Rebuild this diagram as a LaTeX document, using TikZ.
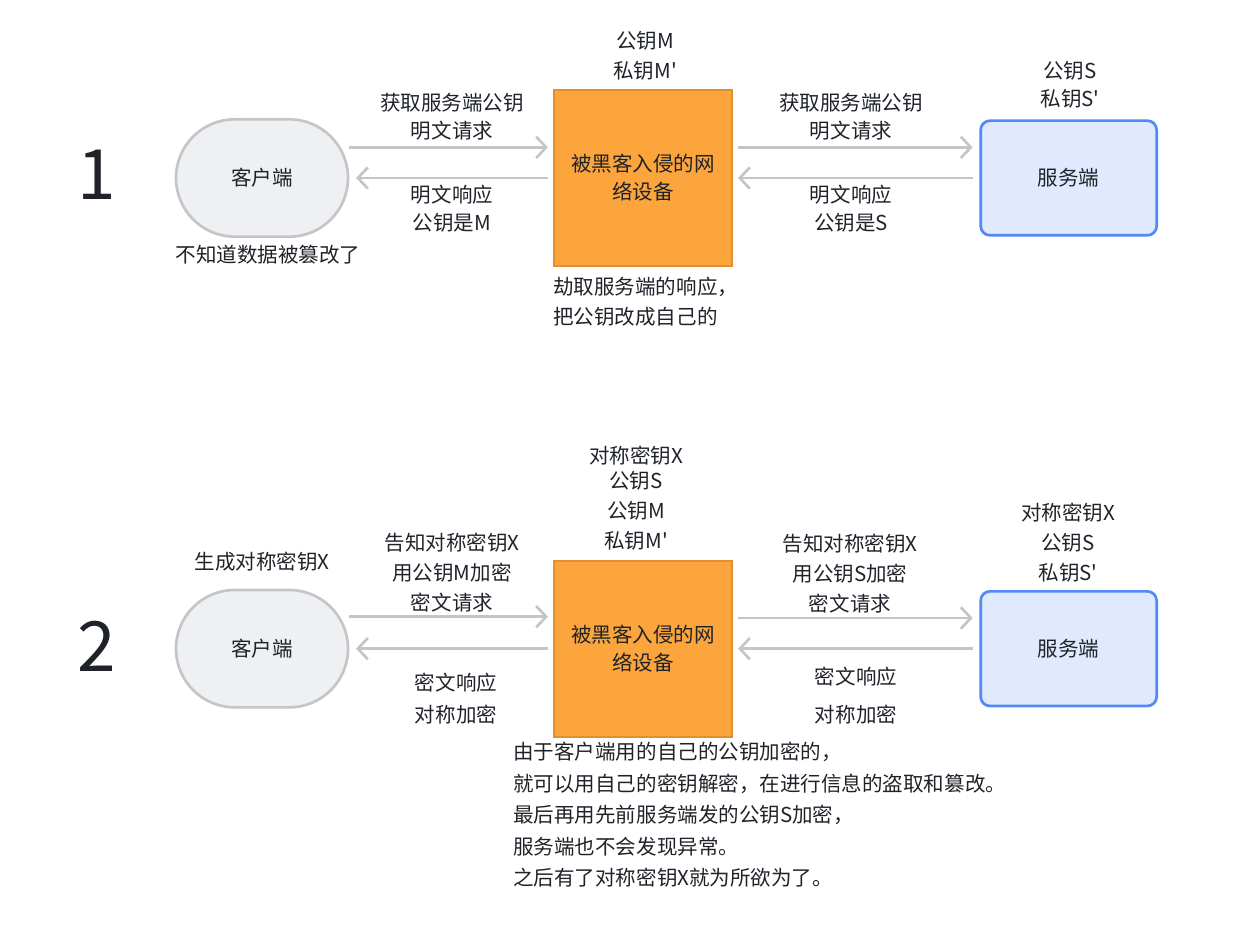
\documentclass[tikz,border=0pt]{standalone}
\usepackage{fontspec}
\setmainfont{Noto Sans CJK SC}
\usepackage{xcolor}
\usetikzlibrary{arrows.meta,positioning,calc}
\definecolor{inkDark}{RGB}{31,35,41}
\definecolor{cliFill}{RGB}{239,240,242}
\definecolor{cliEdge}{RGB}{196,197,200}
\definecolor{hackFill}{RGB}{252,165,61}
\definecolor{hackEdge}{RGB}{226,142,50}
\definecolor{srvFill}{RGB}{225,233,254}
\definecolor{srvEdge}{RGB}{81,137,246}
\newcommand{\pr}{\textquotesingle}

\begin{document}
\begin{tikzpicture}[
    x=0.75pt,y=0.75pt,
    font=\fontsize{15.4}{21}\selectfont,text=inkDark,
    client/.style={draw=cliEdge,line width=2pt,fill=cliFill,rounded corners=44pt,minimum width=129pt,minimum height=88pt},
    hacker/.style={draw=hackEdge,line width=1.5pt,fill=hackFill,minimum width=133pt,minimum height=132pt,align=center},
    server/.style={draw=srvEdge,line width=2pt,fill=srvFill,rounded corners=7pt,minimum width=132pt,minimum height=86pt},
    lbl/.style={align=center,inner sep=0pt},
    wide/.style={lbl,font=\fontsize{15.4}{22.5}\selectfont},
    note/.style={align=left,inner sep=0pt,anchor=west},
    bignum/.style={inner sep=0pt,font=\fontsize{52}{60}\selectfont},
    arrow/.style={-{Straight Barb[length=7.5pt,width=16pt]},line width=2pt,cliEdge}
  ]
    \useasboundingbox (0,0) rectangle (1258,-941);

    % part 1
    \node[bignum] (n1) at (97,-175) {1};
    \node[client] (c1) at (262,-178) {客户端};
    \node[hacker,right=153pt of c1] (h1) {被黑客入侵的网\\络设备};
    \node[server,right=185pt of h1] (s1) {服务端};

    \draw[arrow] ([yshift=23pt]c1.east) -- ([yshift=23pt,xshift=-4pt]h1.west);
    \draw[arrow] ([xshift=-4pt]h1.west) -- ([xshift=5pt]c1.east);
    \draw[arrow] ([yshift=23pt,xshift=4pt]h1.east) -- ([yshift=23pt,xshift=-5pt]s1.west);
    \draw[arrow] ([xshift=-5pt]s1.west) -- ([xshift=4pt]h1.east);

    \node[wide] (k1h) at (645,-56) {公钥M\\私钥M\pr};
    \node[lbl] (k1s) at (1070,-85) {公钥S\\私钥S\pr};
    \node[lbl] (q1a) at (452,-117) {获取服务端公钥\\明文请求};
    \node[lbl] (r1a) at (452,-209) {明文响应\\公钥是M};
    \node[lbl] (q1b) at (851,-117) {获取服务端公钥\\明文请求};
    \node[lbl] (r1b) at (851,-209) {明文响应\\公钥是S};
    \node[lbl] (t1c) at (268,-255) {不知道数据被篡改了};
    \node[wide,note] (t1h) at (553,-302) {劫取服务端的响应，\\把公钥改成自己的};

    % part 2
    \node[bignum] (n2) at (97,-646) {2};
    \node[client,below=263pt of c1] (c2) {客户端};
    \node[hacker,right=153pt of c2] (h2) {被黑客入侵的网\\络设备};
    \node[server,right=185pt of h2] (s2) {服务端};

    \draw[arrow] ([yshift=24pt]c2.east) -- ([yshift=24pt,xshift=-4pt]h2.west);
    \draw[arrow] ([xshift=-4pt]h2.west) -- ([xshift=5pt]c2.east);
    \draw[arrow] ([yshift=23pt,xshift=4pt]h2.east) -- ([yshift=23pt,xshift=-5pt]s2.west);
    \draw[arrow] ([xshift=-5pt]s2.west) -- ([xshift=4pt]h2.east);

    \node[wide] (k2h) at (636,-498) {对称密钥X\\[-3.75pt]公钥S\\公钥M\\私钥M\pr};
    \node[wide] (k2s) at (1068,-543) {对称密钥X\\公钥S\\私钥S\pr};
    \node[lbl] (t2c) at (262,-562) {生成对称密钥X};
    \node[wide] (q2a) at (452,-573) {告知对称密钥X\\用公钥M加密\\密文请求};
    \node[lbl] (r2a) at (456,-699) {密文响应\\[3pt]对称加密};
    \node[wide] (q2b) at (850,-574) {告知对称密钥X\\用公钥S加密\\密文请求};
    \node[lbl] (r2b) at (856,-696) {密文响应\\[7.5pt]对称加密};
    \node[note,font=\fontsize{15.4}{23.6}\selectfont] (t2h) at (513,-815)
      {由于客户端用的自己的公钥加密的，\\就可以用自己的密钥解密，在进行信息的盗取和篡改。\\最后再用先前服务端发的公钥S加密，\\服务端也不会发现异常。\\之后有了对称密钥X就为所欲为了。};
  \end{tikzpicture}
\end{document}
